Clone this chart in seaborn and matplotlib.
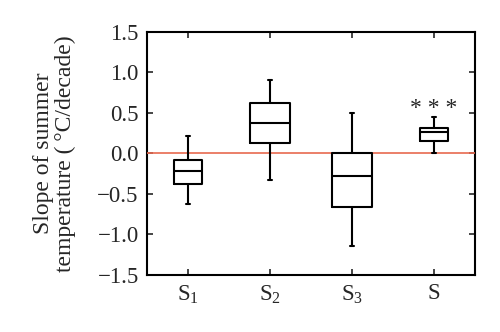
import matplotlib
matplotlib.use("Agg")
import matplotlib.pyplot as plt
import seaborn as sns
import pandas as pd
import numpy as np

categories = ["S$_1$", "S$_2$", "S$_3$", "S"]
# five-number summaries: min, q1, median, q3, max
s1_vals = [-0.62, -0.38, -0.22, -0.08, 0.21]
s2_vals = [-0.33, 0.13, 0.38, 0.62, 0.90]
s3_vals = [-1.14, -0.66, -0.28, 0.00, 0.50]
s_vals = [0.00, 0.15, 0.26, 0.31, 0.45]
narrow = ["S$_1$", "S"]
wide = ["S$_2$", "S$_3$"]
yticks = [-1.5, -1.0, -0.5, 0.0, 0.5, 1.0, 1.5]
ytick_labels = ["\u22121.5", "\u22121.0", "\u22120.5", "0.0", "0.5", "1.0", "1.5"]

df = pd.DataFrame({
    "group": np.repeat(categories, 5),
    "value": s1_vals + s2_vals + s3_vals + s_vals,
})

sns.set_style("white")
plt.rcParams["font.family"] = ["Liberation Serif", "DejaVu Serif"]
plt.rcParams["mathtext.fontset"] = "custom"
plt.rcParams["mathtext.rm"] = "Liberation Serif"

fig = plt.figure(figsize=(5.0, 3.32), dpi=100)
ax = fig.add_axes([0.294, 0.172, 0.656, 0.732])

ax.axhline(0, color="#e8694f", lw=1.2, zorder=0)

common = dict(x="group", y="value", order=categories, whis=(0, 100),
              fill=False, color="black", linewidth=1.5, ax=ax, showfliers=False,
              capwidths=0.04)
sns.boxplot(data=df[df["group"].isin(wide)], width=0.48, **common)
sns.boxplot(data=df[df["group"].isin(narrow)], width=0.33, **common)

for ln in ax.lines:
    ln.set_zorder(3)
for p in ax.patches:
    p.set_zorder(3)

ax.text(3, 0.56, "* * *", ha="center", va="center", fontsize=17)

ax.set_xlim(-0.5, 3.5)
ax.set_ylim(-1.5, 1.5)
ax.set_yticks(yticks)
ax.set_yticklabels(ytick_labels)
ax.set_xticks(range(len(categories)))
ax.set_xticklabels(categories)
ax.set_xlabel("")
ax.set_ylabel("Slope of summer\ntemperature (\u2009\u00b0C/decade)", fontsize=17, labelpad=15,
              linespacing=1.05)
ax.tick_params(axis="both", direction="in", length=4, width=1.2, labelsize=16.5,
               top=True, right=True, bottom=True, left=True, pad=6)
for sp in ax.spines.values():
    sp.set_visible(True)
    sp.set_linewidth(1.5)
    sp.set_color("black")

fig.savefig("out.png", dpi=100, facecolor="white")
